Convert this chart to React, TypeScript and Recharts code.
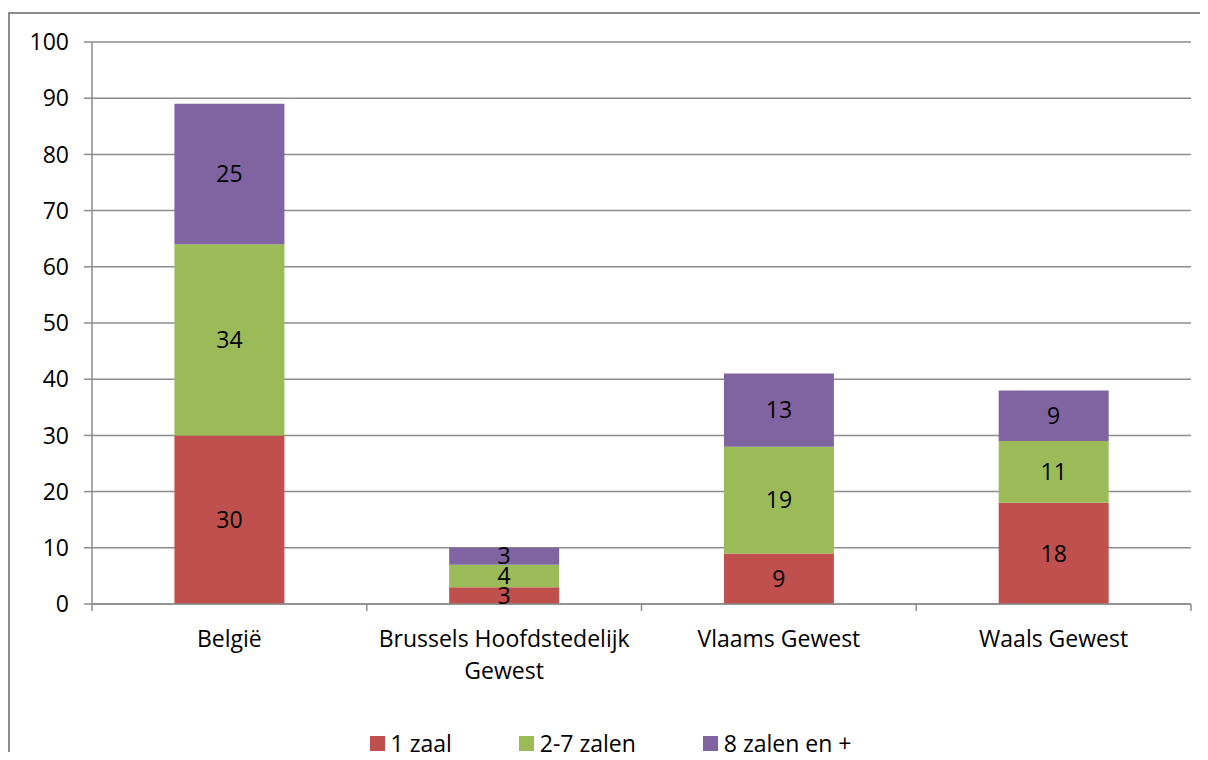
import { BarChart, Bar, XAxis, YAxis, CartesianGrid, Legend, LabelList } from 'recharts';

const regions = ['België', 'Brussels Hoofdstedelijk Gewest', 'Vlaams Gewest', 'Waals Gewest'];
const oneScreen = [30, 3, 9, 18];
const twoToSeven = [34, 4, 19, 11];
const eightPlus = [25, 3, 13, 9];
const seriesNames = ['1 zaal', '2-7 zalen', '8 zalen en +'];
const yTicks = [0, 10, 20, 30, 40, 50, 60, 70, 80, 90, 100];

const COLORS = ['#C0504D', '#9BBB59', '#8064A2'];
const AXIS = '#8c8c8c';
const FONT = "'Open Sans', sans-serif";
const FONT_SIZE = 23;
const W = 1208;
const H = 760;
const MARGIN = { top: 42, right: 17, left: 0, bottom: 0 };
const Y_AXIS_W = 92;

const data = regions.map((region, i) => ({
  region,
  small: oneScreen[i],
  medium: twoToSeven[i],
  large: eightPlus[i],
}));

// greedy word wrap, measured with a canvas so it does not depend on layout
let measureCtx: CanvasRenderingContext2D | null = null;
function wrapLabel(label: string, maxWidth: number): string[] {
  if (!measureCtx) {
    measureCtx = document.createElement('canvas').getContext('2d');
  }
  const ctx = measureCtx;
  if (!ctx) return [label];
  ctx.font = `${FONT_SIZE}px ${FONT}`;
  const lines: string[] = [];
  let current = '';
  for (const word of label.split(' ')) {
    const next = current ? `${current} ${word}` : word;
    if (current && ctx.measureText(next).width > maxWidth) {
      lines.push(current);
      current = word;
    } else {
      current = next;
    }
  }
  if (current) lines.push(current);
  return lines;
}

// category label plus tick marks on the band edges instead of the centres
function RegionTick(props: any) {
  const { x, y, payload, index, visibleTicksCount } = props;
  const plotW = W - MARGIN.right - Y_AXIS_W;
  const band = plotW / visibleTicksCount;
  const left = x - band / 2;
  const right = x + band / 2;
  const lines = wrapLabel(String(payload.value), band - 10);
  return (
    <g>
      <line x1={left} x2={left} y1={y} y2={y + 7} stroke={AXIS} strokeWidth={1.5} />
      {index === visibleTicksCount - 1 && (
        <line x1={right} x2={right} y1={y} y2={y + 7} stroke={AXIS} strokeWidth={1.5} />
      )}
      <text x={x} y={y + 43} textAnchor="middle" fontSize={FONT_SIZE} fontFamily={FONT} fill="#000">
        {lines.map((line, i) => (
          <tspan key={i} x={x} dy={i === 0 ? 0 : 32}>
            {line}
          </tspan>
        ))}
      </text>
    </g>
  );
}

function SquareLegend({ payload }: any) {
  return (
    <div
      style={{
        height: 40,
        boxSizing: 'border-box',
        paddingTop: 12,
        paddingLeft: 30,
        display: 'flex',
        justifyContent: 'center',
        alignItems: 'flex-start',
        gap: 67,
        fontFamily: FONT,
        fontSize: FONT_SIZE,
        lineHeight: '23px',
        color: '#000',
      }}
    >
      {(payload || []).map((entry: any) => (
        <div key={entry.value} style={{ display: 'flex', alignItems: 'center', gap: 6, height: 23 }}>
          <span style={{ width: 15, height: 15, background: entry.color, display: 'inline-block' }} />
          <span>{entry.value}</span>
        </div>
      ))}
    </div>
  );
}

export default function App() {
  return (
    <div
      style={{
        position: 'relative',
        width: W,
        height: H,
        margin: -8,
        overflow: 'hidden',
        background: '#fff',
        fontFamily: FONT,
      }}
    >
      <div style={{ position: 'absolute', left: 0, top: 0, zIndex: 1 }}>
        <BarChart width={W} height={H} data={data} margin={MARGIN} barCategoryGap="30%">
          <CartesianGrid vertical={false} stroke={AXIS} strokeWidth={1.5} />
          <XAxis
            dataKey="region"
            tick={<RegionTick />}
            tickLine={false}
            tickSize={0}
            tickMargin={0}
            height={116}
            interval={0}
            axisLine={{ stroke: AXIS, strokeWidth: 1.5 }}
          />
          <YAxis
            domain={[0, 100]}
            ticks={yTicks}
            width={Y_AXIS_W}
            tickSize={8}
            tickMargin={15}
            tick={{ fill: '#000', fontSize: FONT_SIZE, fontFamily: FONT }}
            tickLine={{ stroke: AXIS, strokeWidth: 1.5 }}
            axisLine={{ stroke: AXIS, strokeWidth: 1.5 }}
          />
          <Legend verticalAlign="bottom" content={<SquareLegend />} />
          <Bar dataKey="small" name={seriesNames[0]} stackId="a" fill={COLORS[0]} isAnimationActive={false}>
            <LabelList dataKey="small" position="center" fill="#000" fontSize={FONT_SIZE} fontFamily={FONT} />
          </Bar>
          <Bar dataKey="medium" name={seriesNames[1]} stackId="a" fill={COLORS[1]} isAnimationActive={false}>
            <LabelList dataKey="medium" position="center" fill="#000" fontSize={FONT_SIZE} fontFamily={FONT} />
          </Bar>
          <Bar dataKey="large" name={seriesNames[2]} stackId="a" fill={COLORS[2]} isAnimationActive={false}>
            <LabelList dataKey="large" position="center" fill="#000" fontSize={FONT_SIZE} fontFamily={FONT} />
          </Bar>
        </BarChart>
      </div>
      {/* outer frame: only its top and left edges fall inside the view */}
      <div style={{ position: 'absolute', left: 8, top: 12, width: W, height: 2, background: AXIS, zIndex: 5 }} />
      <div style={{ position: 'absolute', left: 8, top: 12, width: 2, height: H, background: AXIS, zIndex: 5 }} />
      {/* chart title, sitting mostly above the visible area */}
      <svg
        width={W}
        height={20}
        style={{ position: 'absolute', left: 0, top: 0, zIndex: 6, pointerEvents: 'none' }}
      >
        <text
          x={277}
          y={-1}
          textLength={383}
          lengthAdjust="spacingAndGlyphs"
          fontFamily={FONT}
          fontWeight="bold"
          fontSize={28}
          fill="#E1552B"
        >
          Bioscopen per omvang (2011)
        </text>
      </svg>
    </div>
  );
}
